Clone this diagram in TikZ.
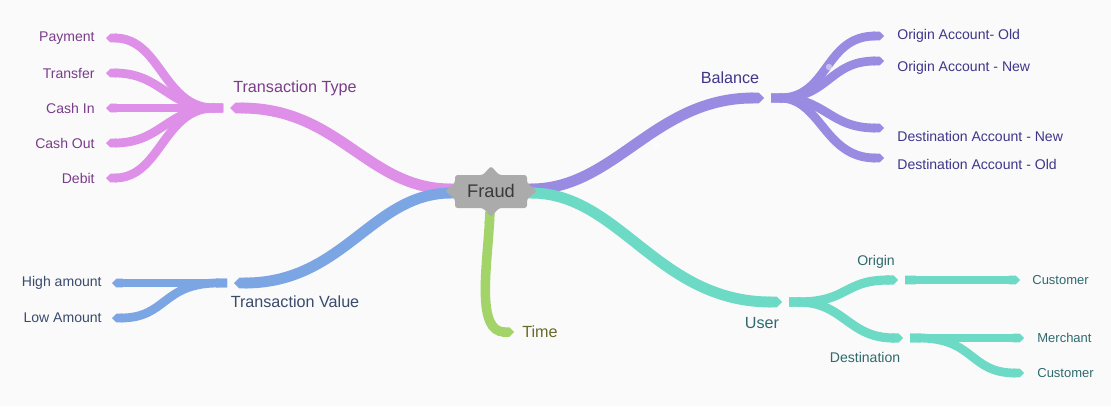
\documentclass[tikz,border=0pt]{standalone}
\usepackage{fontspec}
\setmainfont{Liberation Sans}
\usetikzlibrary{arrows.meta}
\definecolor{bg}{HTML}{FAFAFA}
\definecolor{cPink}{HTML}{DE90E8}
\definecolor{cBlue}{HTML}{7BA5E3}
\definecolor{cViolet}{HTML}{9A8BE2}
\definecolor{cTeal}{HTML}{6DDAC6}
\definecolor{cGreen}{HTML}{A2D46A}
\definecolor{tPink}{HTML}{7A3D8A}
\definecolor{tBlue}{HTML}{3A4B6C}
\definecolor{tViolet}{HTML}{40368A}
\definecolor{tTeal}{HTML}{2E6A6E}
\definecolor{tGreen}{HTML}{6A6A2C}
\definecolor{fraudgray}{HTML}{ABABAB}
\definecolor{fraudtext}{HTML}{3A3A3A}
\begin{document}
\begin{tikzpicture}[x=0.02cm,y=-0.02cm,
  main/.style={line width=6.2pt, {Butt Cap[]}-{Triangle Cap[]}},
  sub/.style={line width=5.2pt, {Butt Cap[]}-{Triangle Cap[]}},
  leaf/.style={line width=5pt, {Butt Cap[]}-{Triangle Cap[]}},
  blab/.style={font=\fontsize{9.2}{11}\selectfont, inner sep=0pt},
  llab/.style={font=\fontsize{8}{10}\selectfont, inner sep=0pt},
  slab/.style={font=\fontsize{7.4}{9}\selectfont, inner sep=0pt}]
\fill[bg] (0,0) rectangle (1111,406);
\useasboundingbox (0,0) rectangle (1111,406);

% coordinates
\coordinate (fL) at (462,189);
\coordinate (fL2) at (462,193);
\coordinate (fR) at (520,189);
\coordinate (fR2) at (520,193);
\coordinate (fB) at (490,212);
\coordinate (ttIn) at (230,108);
\coordinate (ttOut) at (223,108);
\coordinate (tvIn) at (234,283);
\coordinate (tvOut) at (227,283);
\coordinate (balIn) at (764,98);
\coordinate (balOut) at (771,98);
\coordinate (usIn) at (782,302);
\coordinate (usOut) at (789,302);
\coordinate (orIn) at (898,280);
\coordinate (orOut) at (905,280);
\coordinate (deIn) at (903,338);
\coordinate (deOut) at (910,338);
\coordinate (timeEnd) at (514,332);
\coordinate (lPay) at (106,38);
\coordinate (lTra) at (106,73);
\coordinate (lCin) at (106,108);
\coordinate (lCout) at (106,143);
\coordinate (lDeb) at (106,178);
\coordinate (lHigh) at (112,283);
\coordinate (lLow) at (112,318);
\coordinate (lOO) at (884,36);
\coordinate (lON) at (884,61);
\coordinate (lDN) at (884,128);
\coordinate (lDO) at (884,158);
\coordinate (lCu1) at (1020,280);
\coordinate (lMer) at (1024,338);
\coordinate (lCu2) at (1024,373);

% Transaction Type
\draw[leaf, draw=cPink] (ttOut) .. controls +(-60,0) and +(55,0) .. (lPay);
\draw[leaf, draw=cPink] (ttOut) .. controls +(-55,0) and +(55,0) .. (lTra);
\draw[leaf, draw=cPink] (ttOut) -- (lCin);
\draw[leaf, draw=cPink] (ttOut) .. controls +(-55,0) and +(55,0) .. (lCout);
\draw[leaf, draw=cPink] (ttOut) .. controls +(-60,0) and +(55,0) .. (lDeb);
\draw[main, draw=cPink] (fL) .. controls +(-95,0) and +(110,0) .. (ttIn);

% Transaction Value
\draw[leaf, draw=cBlue] (tvOut) -- (lHigh);
\draw[leaf, draw=cBlue] (tvOut) .. controls +(-65,0) and +(55,0) .. (lLow);
\draw[main, draw=cBlue] (fL2) .. controls +(-90,0) and +(110,0) .. (tvIn);

% Time
\draw[main, draw=cGreen, line width=5.4pt] (fB) .. controls +(-3,55) and +(-38,0) .. (timeEnd);

% Balance
\draw[leaf, draw=cViolet] (balOut) .. controls +(58,0) and +(-60,0) .. (lOO);
\draw[leaf, draw=cViolet] (balOut) .. controls +(58,0) and +(-55,0) .. (lON);
\draw[leaf, draw=cViolet] (balOut) .. controls +(55,0) and +(-55,0) .. (lDN);
\draw[leaf, draw=cViolet] (balOut) .. controls +(50,0) and +(-60,0) .. (lDO);
\draw[main, draw=cViolet] (fR) .. controls +(95,0) and +(-110,0) .. (balIn);
\fill[white, opacity=0.45] (657,146) circle (3.2);
\fill[white, opacity=0.45] (829,67) circle (3.2);

% User
\draw[sub, draw=cTeal] (usOut) .. controls +(60,0) and +(-55,0) .. (orIn);
\draw[sub, draw=cTeal] (usOut) .. controls +(55,0) and +(-55,0) .. (deIn);
\draw[leaf, draw=cTeal] (orOut) -- (lCu1);
\draw[leaf, draw=cTeal] (deOut) -- (lMer);
\draw[leaf, draw=cTeal] (deOut) .. controls +(65,0) and +(-55,0) .. (lCu2);
\draw[main, draw=cTeal] (fR2) .. controls +(100,0) and +(-125,0) .. (usIn);

% Fraud root
\fill[fraudgray, rounded corners=1.5] (455,175) -- (483,175) -- (491,166) -- (499,175) -- (527,175) -- (527,183) -- (537,191) -- (527,199) -- (527,208) -- (499,208) -- (491,217) -- (483,208) -- (455,208) -- (455,199) -- (445,191) -- (455,183) -- cycle;
\node[text=fraudtext, font=\fontsize{10.4}{12}\selectfont, inner sep=0pt] (fraud) at (491,191) {Fraud};

% branch labels
\node[blab, text=tPink] (ttlab) at (295,88) {Transaction Type};
\node[blab, text=tBlue] (tvlab) at (295,302) {Transaction Value};
\node[blab, text=tGreen, anchor=west] (timelab) at (522,332) {Time};
\node[blab, text=tViolet] (ballab) at (730,78) {Balance};
\node[blab, text=tTeal] (uslab) at (762,323) {User};
\node[llab, text=tTeal] (orlab) at (876,262) {Origin};
\node[llab, text=tTeal] (delab) at (865,357) {Destination};

% leaf labels
\node[llab, text=tPink, anchor=east] (tPay) at (95,38) {Payment};
\node[llab, text=tPink, anchor=east] (tTra) at (95,73) {Transfer};
\node[llab, text=tPink, anchor=east] (tCin) at (95,108) {Cash In};
\node[llab, text=tPink, anchor=east] (tCout) at (95,143) {Cash Out};
\node[llab, text=tPink, anchor=east] (tDeb) at (95,178) {Debit};
\node[llab, text=tBlue, anchor=east] (tHigh) at (102,283) {High amount};
\node[llab, text=tBlue, anchor=east] (tLow) at (102,318) {Low Amount};
\node[llab, text=tViolet, anchor=west] (tOO) at (897,36) {Origin Account- Old};
\node[llab, text=tViolet, anchor=west] (tON) at (897,68) {Origin Account - New};
\node[llab, text=tViolet, anchor=west] (tDN) at (897,136) {Destination Account - New};
\node[llab, text=tViolet, anchor=west] (tDO) at (897,164) {Destination Account - Old};
\node[slab, text=tTeal, anchor=west] (tCu1) at (1032,280) {Customer};
\node[slab, text=tTeal, anchor=west] (tMer) at (1037,338) {Merchant};
\node[slab, text=tTeal, anchor=west] (tCu2) at (1037,373) {Customer};
\end{tikzpicture}
\end{document}
